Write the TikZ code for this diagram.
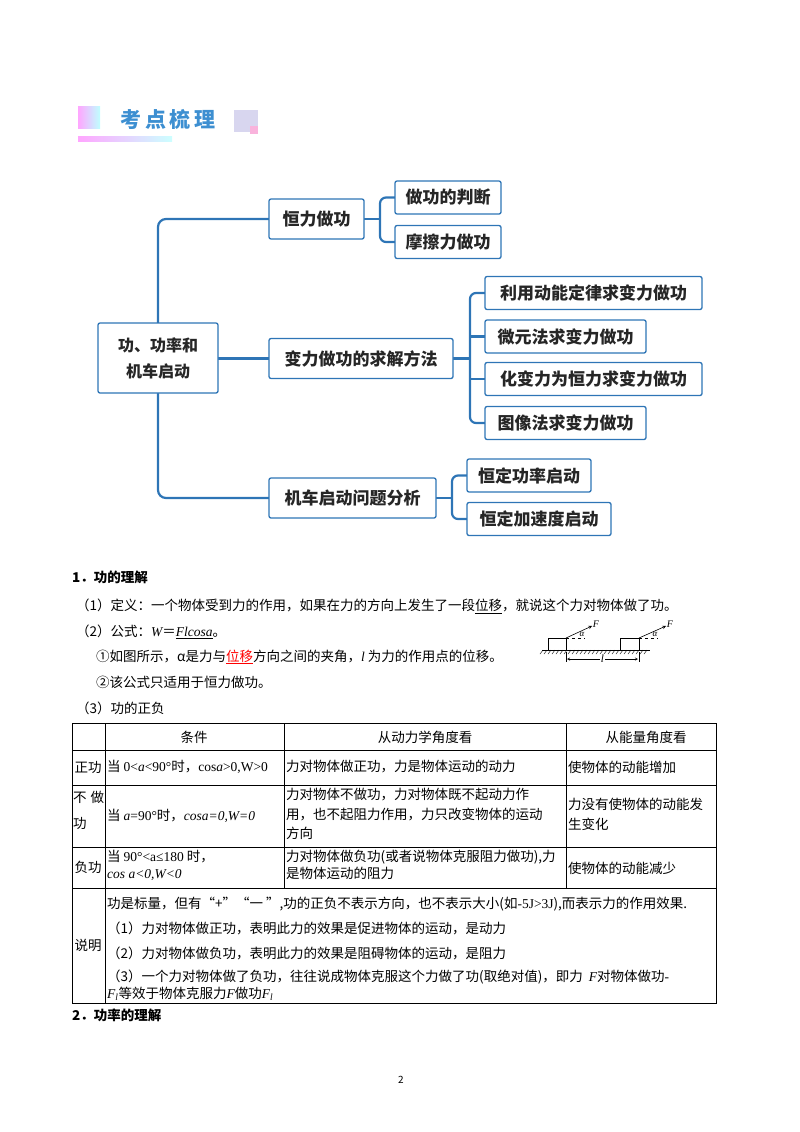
\documentclass[tikz,border=0pt]{standalone}
\usepackage{fontspec}
\setmainfont{Noto Sans CJK SC}
\newfontfamily\lat{Liberation Serif}
\definecolor{mb}{HTML}{2E75B6}
\definecolor{hb}{HTML}{3D8FD1}
\begin{document}
\begin{tikzpicture}[x=1pt,y=-1pt,
  mm/.style={draw=mb,line width=1.3pt,rounded corners=2pt,fill=white,font=\fontsize{17}{20}\selectfont\bfseries,text=black!85,inner sep=0pt},
  ln/.style={mb,line width=2.2pt},
  tx/.style={anchor=west,inner sep=0pt,font=\fontsize{13.5}{16}\selectfont},
  cell/.style={anchor=north west,inner sep=1pt,font=\fontsize{13.5}{17}\selectfont,align=left},
  grid/.style={line width=0.6pt}]
\useasboundingbox (0,0) rectangle (800,1132);
% header
\shade[left color=magenta!35,right color=cyan!25] (78,106) rectangle (100,128);
\shade[left color=magenta!35,right color=cyan!20] (78,136) rectangle (172,141);
\fill[cyan!20!blue!15] (234,110) rectangle (258,132);
\fill[magenta!30] (250,126) rectangle (258,134);
\node[font=\fontsize{21}{22}\selectfont\bfseries,text=hb] (hd) at (168,119) {考\,点\,梳\,理};
% connectors
\draw[ln,rounded corners=8pt] (158,330) |- (269,219);
\draw[ln,rounded corners=8pt] (158,385) |- (269,498);
\draw[ln] (210,358.5) -- (269,358.5);
\draw[ln] (360,219) -- (380,219);
\draw[ln,rounded corners=6pt] (398,197.5) -| (380,219) |- (398,242);
\draw[ln] (450,358.5) -- (470,358.5);
\draw[ln,rounded corners=6pt] (488,293) -| (470,358.5) |- (488,423);
\draw[ln] (470,336.5) -- (488,336.5);
\draw[ln] (470,379) -- (488,379);
\draw[ln] (432,498) -- (452,498);
\draw[ln,rounded corners=6pt] (470,475.5) -| (452,498) |- (470,519);
% mind map
\node[mm,minimum width=120,minimum height=70,align=center,font=\fontsize{16}{26}\selectfont\bfseries] (root) at (158,358) {功、功率和\\机车启动};
\node[mm,minimum width=95,minimum height=40] (a) at (316.5,219) {恒力做功};
\node[mm,minimum width=184,minimum height=40] (b) at (361,358.5) {变力做功的求解方法};
\node[mm,minimum width=167,minimum height=40] (c) at (352.5,498) {机车启动问题分析};
\node[mm,minimum width=106,minimum height=33] (a1) at (448,197.5) {做功的判断};
\node[mm,minimum width=106,minimum height=33] (a2) at (448,242) {摩擦力做功};
\node[mm,minimum width=217,minimum height=33] (b1) at (593.5,293) {利用动能定律求变力做功};
\node[mm,minimum width=161,minimum height=33] (b2) at (565.5,336.5) {微元法求变力做功};
\node[mm,minimum width=217,minimum height=33] (b3) at (593.5,379) {化变力为恒力求变力做功};
\node[mm,minimum width=161,minimum height=33] (b4) at (565.5,423) {图像法求变力做功};
\node[mm,minimum width=124,minimum height=33] (c1) at (529,475.5) {恒定功率启动};
\node[mm,minimum width=144,minimum height=33] (c2) at (539,519) {恒定加速度启动};
% text
\node[tx,font=\fontsize{13.5}{16}\selectfont\bfseries] (t1) at (72,577) {1．功的理解};
\node[tx] (t2) at (76,606) {（1）定义：一个物体受到力的作用，如果在力的方向上发生了一段\underline{位移}，就说这个力对物体做了功。};
\node[tx] (t3) at (76,632) {（2）公式：{\lat\itshape W}＝\underline{{\lat\itshape Flcosa}}。};
\node[tx] (t4) at (96,657) {①如图所示，α是力与{\color{red}\underline{位移}}方向之间的夹角，{\lat\itshape l} 为力的作用点的位移。};
\node[tx] (t5) at (96,682) {②该公式只适用于恒力做功。};
\node[tx] (t6) at (76,708) {（3）功的正负};
% figure
\draw[line width=0.6pt] (542,650) -- (650,650);
\foreach \i in {0,...,26} \draw[line width=0.4pt] (543+4*\i,650) -- (540+4*\i,654);
\draw[line width=0.6pt] (548,650) rectangle (566,638);
\draw[line width=0.6pt] (620,650) rectangle (639,638);
\draw[dashed,line width=0.4pt] (566,638) -- (585,638);
\draw[dashed,line width=0.4pt] (639,638) -- (658,638);
\draw[-stealth,line width=0.6pt] (566,638) -- (592,626);
\draw[-stealth,line width=0.6pt] (639,638) -- (666,626);
\node[font=\lat\itshape\fontsize{10}{10}\selectfont,inner sep=0] (f1) at (596,624) {F};
\node[font=\lat\itshape\fontsize{10}{10}\selectfont,inner sep=0] (f2) at (670,624) {F};
\node[font=\lat\itshape\fontsize{9}{9}\selectfont,inner sep=0] (al1) at (582,634) {α};
\node[font=\lat\itshape\fontsize{9}{9}\selectfont,inner sep=0] (al2) at (655,634) {α};
\draw[line width=0.4pt] (566,652) -- (566,662);
\draw[line width=0.4pt] (639,652) -- (639,662);
\node[font=\lat\itshape\fontsize{11}{11}\selectfont,fill=white,inner sep=1pt] (ll) at (602.5,659) {l};
\draw[-stealth,line width=0.4pt] (ll.west) -- (567,659);
\draw[-stealth,line width=0.4pt] (ll.east) -- (638,659);
% table
\draw[grid] (72,723) rectangle (716,1003);
\foreach \y in {750,785,847,888} \draw[grid] (72,\y) -- (716,\y);
\draw[grid] (105,723) -- (105,1003);
\foreach \x in {284,566} \draw[grid] (\x,723) -- (\x,888);
\node[font=\fontsize{13.5}{16}\selectfont] (h1) at (194,737) {条件};
\node[font=\fontsize{13.5}{16}\selectfont] (h2) at (425,737) {从动力学角度看};
\node[font=\fontsize{13.5}{16}\selectfont] (h3) at (646,737) {从能量角度看};
\node[font=\fontsize{13.5}{16}\selectfont] (r1) at (88,767) {正功};
\node[cell,font=\fontsize{13.5}{26}\selectfont] (r2) at (72,790) {不\hspace{4pt}做\\功};
\node[font=\fontsize{13.5}{16}\selectfont] (r3) at (88,867) {负功};
\node[font=\fontsize{13.5}{16}\selectfont] (r4) at (88,945) {说明};
\node[tx] (c11) at (107,767) {当 {\lat 0<\textit{a}<90°}时，{\lat cos\textit{a}>0,W>0}};
\node[tx] (c12) at (286,767) {力对物体做正功，力是物体运动的动力};
\node[tx] (c13) at (568,767) {使物体的动能增加};
\node[tx] (c21) at (107,816) {当 {\lat\textit{a}=90°}时，{\lat\itshape cosa=0,W=0}};
\node[cell,font=\fontsize{13.5}{19.5}\selectfont] (c22) at (285,787) {力对物体不做功，力对物体既不起动力作\\用，也不起阻力作用，力只改变物体的运动\\方向};
\node[cell,font=\fontsize{13.5}{19.5}\selectfont] (c23) at (567,797) {力没有使物体的动能发\\生变化};
\node[cell] (c31) at (106,849) {当 {\lat 90°<a≤180} 时，\\{\lat\itshape cos a<0,W<0}};
\node[cell] (c32) at (285,849) {力对物体做负功(或者说物体克服阻力做功),力\\是物体运动的阻力};
\node[tx] (c33) at (568,868) {使物体的动能减少};
\node[tx] (c41) at (107,904) {功是标量，但有“+”“一 ”,功的正负不表示方向，也不表示大小(如{\lat -5J>3J}),而表示力的作用效果.};
\node[tx] (c42) at (107,928) {（1）力对物体做正功，表明此力的效果是促进物体的运动，是动力};
\node[tx] (c43) at (107,953) {（2）力对物体做负功，表明此力的效果是阻碍物体的运动，是阻力};
\node[cell] (c44) at (106,969) {（3）一个力对物体做了负功，往往说成物体克服这个力做了功(取绝对值)，即力\ \ {\lat\itshape F}对物体做功{\lat -}\\{\lat\itshape F\textsubscript{l}}等效于物体克服力{\lat\itshape F}做功{\lat\itshape F\textsubscript{l}}};
\node[tx,font=\fontsize{13.5}{16}\selectfont\bfseries] (t7) at (72,1015) {2．功率的理解};
\node[font=\fontsize{10}{10}\selectfont] (pg) at (401,1080) {2};
\end{tikzpicture}
\end{document}
